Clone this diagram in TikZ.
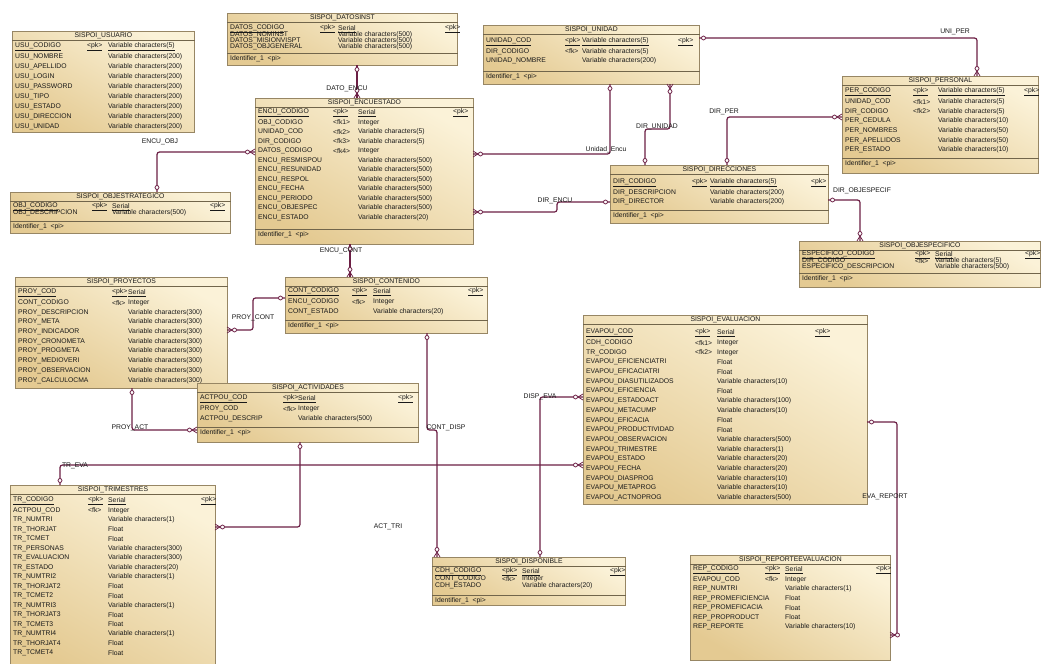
\documentclass[tikz,border=0pt]{standalone}
\usepackage{fontspec}
\setmainfont{Liberation Sans}
\usetikzlibrary{calc}

\newcommand\pku[1]{\underline{#1}}
% table box, title and title rule
\newcommand\erdtable[6]{%
  \node[tbl,minimum width=#5pt,minimum height=#6pt] (#1) at (#3,#4) {};
  \node[ttl] (#1-title) at ($(#1.north)+(0,4.8)$) {#2};
  \draw[sep] ($(#1.north west)+(0,9.6)$) -- ($(#1.north east)+(0,9.6)$);}
% columns: name, key, type
\newcommand\erdrows[6]{%
  \foreach \f/\k/\t [count=\i from 0] in {#6}{
    \node[fld] (#1-f\i) at ($(#1.north west)+(3,#4+#5*\i)$) {\f};
    \node[fld] (#1-k\i) at ($(#1.north west)+(#2,#4+#5*\i)$) {\k};
    \node[fld] (#1-d\i) at ($(#1.north west)+(#3,#4+#5*\i)$) {\t};}}
\newcommand\erdpk[3]{%
  \node[fld] (#1-pk) at ($(#1.north west)+(#2,#3)$) {\pku{<pk>}};}
\newcommand\erdident[2]{%
  \draw[sep] ($(#1.north west)+(0,#2)$) -- ($(#1.north east)+(0,#2)$);
  \node[fld] (#1-id) at ($(#1.north west)+(3,#2+5.5)$) {Identifier\_1 \ <pi>};}

\begin{document}
\begin{tikzpicture}[x=1pt,y=-1pt,
  tbl/.style={draw=tblline,line width=0.8pt,top color=tblhi,bottom color=tbllo,
    shading angle=-30,anchor=north west,inner sep=0pt},
  ttl/.style={font=\fontsize{6.8}{6.8}\selectfont,inner sep=0pt,text=black!90},
  fld/.style={font=\fontsize{6.8}{6.8}\selectfont,inner sep=0pt,anchor=west,text=black!90},
  sep/.style={draw=tblline!75!black,line width=0.6pt},
  rel/.style={draw=relc,line width=1.2pt,rounded corners=2.5pt},
  lbl/.style={font=\fontsize{6.8}{6.8}\selectfont,inner sep=0pt,text=black!90},
  one/.pic={\draw[relc,fill=white,line width=0.75pt] (-4.5,0) circle (2);},
  crow/.pic={\draw[relc,line width=0.75pt] (0,-3) -- (-5,0) -- (0,3);
    \draw[relc,fill=white,line width=0.75pt] (-7.5,0) circle (2);}]
\definecolor{tblhi}{HTML}{FBF2D8}
\definecolor{tbllo}{HTML}{E4CA92}
\definecolor{tblline}{HTML}{978664}
\definecolor{relc}{HTML}{6C1F45}
\fill[white] (0,0) rectangle (1042,664);
\useasboundingbox (0,0) rectangle (1042,664);

% tables
\erdtable{usu}{SISPOI\_USUARIO}{12}{31}{182}{101}
\erdrows{usu}{75}{96}{16}{9.95}{\pku{USU\_CODIGO}/\pku{<pk>}/\pku{Variable characters(5)},
  USU\_NOMBRE//Variable characters(200), USU\_APELLIDO//Variable characters(200),
  USU\_LOGIN//Variable characters(200), USU\_PASSWORD//Variable characters(200),
  USU\_TIPO//Variable characters(200), USU\_ESTADO//Variable characters(200),
  USU\_DIRECCION//Variable characters(200), USU\_UNIDAD//Variable characters(200)}

\erdtable{dat}{SISPOI\_DATOSINST}{227}{13}{230}{52}
\erdrows{dat}{93}{111}{16}{6}{\pku{DATOS\_CODIGO}/\pku{<pk>}/\pku{Serial},
  DATOS\_NOMINST//Variable characters(500), DATOS\_MISIONVISPT//Variable characters(500),
  DATOS\_OBJGENERAL//Variable characters(500)}
\erdpk{dat}{218}{16}
\erdident{dat}{40}

\erdtable{uni}{SISPOI\_UNIDAD}{483}{25}{216}{59}
\erdrows{uni}{82}{99}{17}{9.5}{\pku{UNIDAD\_COD}/\pku{<pk>}/\pku{Variable characters(5)},
  DIR\_CODIGO/<fk>/Variable characters(5), UNIDAD\_NOMBRE//Variable characters(200)}
\erdpk{uni}{195}{17}
\erdident{uni}{46}

\erdtable{per}{SISPOI\_PERSONAL}{842}{76}{196}{97}
\erdrows{per}{71}{96}{16}{9.7}{\pku{PER\_CODIGO}/\pku{<pk>}/\pku{Variable characters(5)},
  UNIDAD\_COD/<fk1>/Variable characters(5), DIR\_CODIGO/<fk2>/Variable characters(5),
  PER\_CEDULA//Variable characters(10), PER\_NOMBRES//Variable characters(50),
  PER\_APELLIDOS//Variable characters(50), PER\_ESTADO//Variable characters(10)}
\erdpk{per}{182}{16}
\erdident{per}{82}

\erdtable{enc}{SISPOI\_ENCUESTADO}{255}{98}{218}{146}
\erdrows{enc}{78}{103}{15}{9.5}{\pku{ENCU\_CODIGO}/\pku{<pk>}/\pku{Serial},
  OBJ\_CODIGO/<fk1>/Integer, UNIDAD\_COD/<fk2>/Variable characters(5),
  DIR\_CODIGO/<fk3>/Variable characters(5), DATOS\_CODIGO/<fk4>/Integer,
  ENCU\_RESMISPOU//Variable characters(500), ENCU\_RESUNIDAD//Variable characters(500),
  ENCU\_RESPOL//Variable characters(500), ENCU\_FECHA//Variable characters(500),
  ENCU\_PERIODO//Variable characters(500), ENCU\_OBJESPEC//Variable characters(500),
  ENCU\_ESTADO//Variable characters(20)}
\erdpk{enc}{198}{15}
\erdident{enc}{131}

\erdtable{obe}{SISPOI\_OBJESTRATEGICO}{10}{192}{220}{41}
\erdrows{obe}{82}{102}{15}{6}{\pku{OBJ\_CODIGO}/\pku{<pk>}/\pku{Serial},
  OBJ\_DESCRIPCION//Variable characters(500)}
\erdpk{obe}{200}{15}
\erdident{obe}{29}

\erdtable{dir}{SISPOI\_DIRECCIONES}{610}{165}{218}{58}
\erdrows{dir}{82}{100}{18}{9.5}{\pku{DIR\_CODIGO}/\pku{<pk>}/\pku{Variable characters(5)},
  DIR\_DESCRIPCION//Variable characters(200), DIR\_DIRECTOR//Variable characters(200)}
\erdpk{dir}{201}{18}
\erdident{dir}{45}

\erdtable{obs}{SISPOI\_OBJESPECIFICO}{799}{241}{241}{46}
\erdrows{obs}{116}{136}{14}{6}{\pku{ESPECIFICO\_CODIGO}/\pku{<pk>}/\pku{Serial},
  DIR\_CODIGO/<fk>/Variable characters(5), ESPECIFICO\_DESCRIPCION//Variable characters(500)}
\erdpk{obs}{226}{14}
\erdident{obs}{32}

\erdtable{pro}{SISPOI\_PROYECTOS}{15}{277}{212}{111}
\erdrows{pro}{97}{113}{16}{9.7}{\pku{PROY\_COD}/\pku{<pk>}/\pku{Serial},
  CONT\_CODIGO/<fk>/Integer, PROY\_DESCRIPCION//Variable characters(300),
  PROY\_META//Variable characters(300), PROY\_INDICADOR//Variable characters(300),
  PROY\_CRONOMETA//Variable characters(300), PROY\_PROGMETA//Variable characters(300),
  PROY\_MEDIOVERI//Variable characters(300), PROY\_OBSERVACION//Variable characters(300),
  PROY\_CALCULOCMA//Variable characters(300)}

\erdtable{con}{SISPOI\_CONTENIDO}{285}{277}{202}{56}
\erdrows{con}{67}{88}{15}{10}{\pku{CONT\_CODIGO}/\pku{<pk>}/\pku{Serial},
  ENCU\_CODIGO/<fk>/Integer, CONT\_ESTADO//Variable characters(20)}
\erdpk{con}{183}{15}
\erdident{con}{43}

\erdtable{act}{SISPOI\_ACTIVIDADES}{197}{383}{221}{59}
\erdrows{act}{86}{101}{16}{10}{\pku{ACTPOU\_COD}/\pku{<pk>}/\pku{Serial},
  PROY\_COD/<fk>/Integer, ACTPOU\_DESCRIP//Variable characters(500)}
\erdpk{act}{201}{16}
\erdident{act}{44}

\erdtable{eva}{SISPOI\_EVALUACION}{583}{315}{284}{189}
\erdrows{eva}{112}{134}{18}{9.7}{\pku{EVAPOU\_COD}/\pku{<pk>}/\pku{Serial},
  CDH\_CODIGO/<fk1>/Integer, TR\_CODIGO/<fk2>/Integer,
  EVAPOU\_EFICIENCIATRI//Float, EVAPOU\_EFICACIATRI//Float,
  EVAPOU\_DIASUTILIZADOS//Variable characters(10), EVAPOU\_EFICIENCIA//Float,
  EVAPOU\_ESTADOACT//Variable characters(100), EVAPOU\_METACUMP//Variable characters(10),
  EVAPOU\_EFICACIA//Float, EVAPOU\_PRODUCTIVIDAD//Float,
  EVAPOU\_OBSERVACION//Variable characters(500), EVAPOU\_TRIMESTRE//Variable characters(1),
  EVAPOU\_ESTADO//Variable characters(20), EVAPOU\_FECHA//Variable characters(20),
  EVAPOU\_DIASPROG//Variable characters(10), EVAPOU\_METAPROG//Variable characters(10),
  EVAPOU\_ACTNOPROG//Variable characters(500)}
\erdpk{eva}{232}{18}

\erdtable{tri}{SISPOI\_TRIMESTRES}{10}{485}{205}{190}
\erdrows{tri}{78}{98}{16}{9.5}{\pku{TR\_CODIGO}/\pku{<pk>}/\pku{Serial},
  ACTPOU\_COD/<fk>/Integer, TR\_NUMTRI//Variable characters(1),
  TR\_THORJAT//Float, TR\_TCMET//Float, TR\_PERSONAS//Variable characters(300),
  TR\_EVALUACION//Variable characters(300), TR\_ESTADO//Variable characters(20),
  TR\_NUMTRI2//Variable characters(1), TR\_THORJAT2//Float, TR\_TCMET2//Float,
  TR\_NUMTRI3//Variable characters(1), TR\_THORJAT3//Float, TR\_TCMET3//Float,
  TR\_NUMTRI4//Variable characters(1), TR\_THORJAT4//Float, TR\_TCMET4//Float}
\erdpk{tri}{191}{16}

\erdtable{dis}{SISPOI\_DISPONIBLE}{432}{557}{193}{48}
\erdrows{dis}{70}{90}{15}{7}{\pku{CDH\_CODIGO}/\pku{<pk>}/\pku{Serial},
  CONT\_CODIGO/<fk>/Integer, CDH\_ESTADO//Variable characters(20)}
\erdpk{dis}{178}{15}
\erdident{dis}{38}

\erdtable{rep}{SISPOI\_REPORTEEVALUACION}{690}{555}{200}{105}
\erdrows{rep}{75}{95}{15}{9.5}{\pku{REP\_CODIGO}/\pku{<pk>}/\pku{Serial},
  EVAPOU\_COD/<fk>/Integer, REP\_NUMTRI//Variable characters(1),
  REP\_PROMEFICIENCIA//Float, REP\_PROMEFICACIA//Float,
  REP\_PROPRODUCT//Float, REP\_REPORTE//Variable characters(10)}
\erdpk{rep}{186}{15}

% reference ends
\coordinate (obe-n) at (157,192);  \coordinate (enc-w) at (255,152);
\coordinate (dat-s) at (357,65);   \coordinate (enc-n) at (357,98);
\coordinate (uni-s1) at (610,84);  \coordinate (enc-e1) at (473,154);
\coordinate (uni-s2) at (670,84);  \coordinate (dir-n1) at (645,165);
\coordinate (dir-n2) at (727,165); \coordinate (per-w) at (842,117);
\coordinate (uni-e) at (699,38);   \coordinate (per-n) at (977,76);
\coordinate (dir-e) at (828,200);  \coordinate (obs-n) at (860,241);
\coordinate (dir-w) at (610,202);  \coordinate (enc-e2) at (473,212);
\coordinate (enc-s) at (350,244);  \coordinate (con-n) at (350,277);
\coordinate (con-w) at (285,298);  \coordinate (pro-e) at (227,330);
\coordinate (pro-s) at (132,388);  \coordinate (act-w) at (197,430);
\coordinate (con-s) at (427,333);  \coordinate (dis-n1) at (437,557);
\coordinate (act-s) at (300,442);  \coordinate (tri-e) at (215,527);
\coordinate (tri-n) at (60,485);   \coordinate (eva-w2) at (583,465);
\coordinate (dis-n2) at (540,557); \coordinate (eva-w1) at (583,397);
\coordinate (eva-e) at (867,422);  \coordinate (rep-e) at (890,635);

% references
\draw[rel] (obe-n) |- (enc-w);
\draw[rel] (dat-s) -- (enc-n);
\draw[rel] (uni-s1) |- (enc-e1);
\draw[rel] (uni-s2) -- ++(0,45) -| (dir-n1);
\draw[rel] (dir-n2) |- (per-w);
\draw[rel] (uni-e) -| (per-n);
\draw[rel] (dir-e) -| (obs-n);
\draw[rel] (dir-w) -- ++(-53,0) |- (enc-e2);
\draw[rel] (enc-s) -- (con-n);
\draw[rel] (con-w) -- ++(-32,0) |- (pro-e);
\draw[rel] (pro-s) |- (act-w);
\draw[rel] (con-s) -- ++(0,97) -| (dis-n1);
\draw[rel] (act-s) |- (tri-e);
\draw[rel] (tri-n) |- (eva-w2);
\draw[rel] (dis-n2) |- (eva-w1);
\draw[rel] (eva-e) -- ++(30,0) |- (rep-e);

\pic[rotate=-90] at (obe-n) {one};  \pic at (enc-w) {crow};
\pic[rotate=90] at (dat-s) {one};   \pic[rotate=-90] at (enc-n) {crow};
\pic[rotate=90] at (uni-s1) {one};  \pic[rotate=180] at (enc-e1) {crow};
\pic[rotate=90] at (uni-s2) {crow}; \pic[rotate=-90] at (dir-n1) {one};
\pic[rotate=-90] at (dir-n2) {one}; \pic at (per-w) {crow};
\pic[rotate=180] at (uni-e) {one};  \pic[rotate=-90] at (per-n) {crow};
\pic[rotate=180] at (dir-e) {one};  \pic[rotate=-90] at (obs-n) {crow};
\pic at (dir-w) {one};              \pic[rotate=180] at (enc-e2) {crow};
\pic[rotate=90] at (enc-s) {one};   \pic[rotate=-90] at (con-n) {crow};
\pic at (con-w) {one};              \pic[rotate=180] at (pro-e) {crow};
\pic[rotate=90] at (pro-s) {one};   \pic at (act-w) {crow};
\pic[rotate=90] at (con-s) {one};   \pic[rotate=-90] at (dis-n1) {crow};
\pic[rotate=90] at (act-s) {one};   \pic[rotate=180] at (tri-e) {crow};
\pic[rotate=-90] at (tri-n) {one};  \pic at (eva-w2) {crow};
\pic[rotate=-90] at (dis-n2) {one}; \pic at (eva-w1) {crow};
\pic[rotate=180] at (eva-e) {one};  \pic[rotate=180] at (rep-e) {crow};

\node[lbl] (l-encuobj) at (160,142) {ENCU\_OBJ};
\node[lbl] (l-datoencu) at (347,89) {DATO\_ENCU};
\node[lbl] (l-uniencu) at (606,150) {Unidad\_Encu};
\node[lbl] (l-dirunidad) at (657,127) {DIR\_UNIDAD};
\node[lbl] (l-dirper) at (724,112) {DIR\_PER};
\node[lbl] (l-uniper) at (955,32) {UNI\_PER};
\node[lbl] (l-dirobjesp) at (862,191) {DIR\_OBJESPECIF};
\node[lbl] (l-direncu) at (555,201) {DIR\_ENCU};
\node[lbl] (l-encucont) at (341,251) {ENCU\_CONT};
\node[lbl] (l-proycont) at (253,318) {PROY\_CONT};
\node[lbl] (l-proyact) at (130,428) {PROY\_ACT};
\node[lbl] (l-contdisp) at (446,428) {CONT\_DISP};
\node[lbl] (l-acttri) at (388,527) {ACT\_TRI};
\node[lbl] (l-treva) at (75,466) {TR\_EVA};
\node[lbl] (l-dispeva) at (540,397) {DISP\_EVA};
\node[lbl] (l-evarep) at (885,497) {EVA\_REPORT};
\end{tikzpicture}
\end{document}
